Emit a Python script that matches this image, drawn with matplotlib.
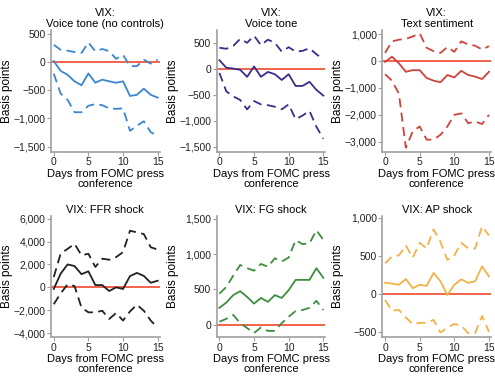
import matplotlib.pyplot as plt
from matplotlib.ticker import FuncFormatter

plt.rcParams['font.family'] = ['Liberation Sans', 'DejaVu Sans']
plt.rcParams['axes.unicode_minus'] = True

days = list(range(16))

titles = ['VIX:\nVoice tone (no controls)', 'VIX:\nVoice tone', 'VIX:\nText sentiment',
          'VIX: FFR shock', 'VIX: FG shock', 'VIX: AP shock']
colors = ['#3a86d0', '#3c2d8c', '#d0433a', '#222222', '#3e8e3e', '#f2b344']

voice_nc_mid = [20, -155, -225, -340, -410, -200, -365, -310, -340, -365, -340, -600, -580, -470, -580, -630]
voice_nc_hi = [310, 220, 205, 180, 165, 350, 195, 235, 195, 60, 130, -70, -70, 45, -25, 45]
voice_nc_lo = [-205, -560, -670, -890, -890, -775, -745, -765, -820, -830, -820, -1220, -1130, -1050, -1245, -1310]

voice_mid = [165, 20, 5, -20, -155, 45, -155, -60, -105, -215, -105, -330, -330, -250, -405, -515]
voice_hi = [405, 385, 440, 575, 500, 635, 455, 560, 500, 330, 415, 330, 345, 395, 280, 185]
voice_lo = [-80, -435, -530, -600, -780, -620, -685, -700, -730, -780, -685, -970, -900, -810, -1115, -1345]

text_mid = [-35, 160, -85, -400, -340, -340, -630, -730, -790, -520, -610, -365, -520, -580, -670, -400]
text_hi = [300, 730, 790, 820, 910, 1030, 490, 365, 300, 520, 340, 730, 610, 570, 425, 550]
text_lo = [-490, -730, -1220, -3220, -2610, -2430, -2920, -2920, -2740, -2430, -2000, -1945, -2310, -2245, -2340, -2000]

ffr_mid = [-140, 1200, 2000, 1860, 1150, 1400, 200, 200, -320, 0, -140, 980, 1260, 1000, 400, 575]
ffr_hi = [900, 2950, 3360, 3800, 2800, 2930, 1780, 2500, 2410, 2640, 3070, 4940, 4800, 4650, 3500, 3300]
ffr_lo = [-1470, -520, 260, 115, -1760, -2180, -2180, -2040, -2760, -2240, -2900, -2100, -1520, -2040, -2900, -3530]

fg_mid = [240, 315, 420, 475, 395, 300, 380, 325, 420, 380, 490, 635, 635, 635, 800, 665]
fg_hi = [440, 535, 695, 845, 800, 765, 860, 820, 940, 895, 950, 1195, 1140, 1150, 1335, 1200]
fg_lo = [45, 85, 140, 25, -45, -115, -35, -85, -85, 25, 115, 195, 210, 240, 340, 210]

ap_mid = [150, 140, 125, 200, 80, 125, 110, 280, 170, -10, 125, 195, 150, 170, 365, 235]
ap_hi = [405, 495, 510, 640, 480, 675, 600, 850, 685, 450, 510, 675, 600, 600, 890, 770]
ap_lo = [-75, -215, -205, -305, -390, -375, -375, -335, -500, -435, -390, -410, -510, -510, -285, -490]

series = [(voice_nc_mid, voice_nc_hi, voice_nc_lo), (voice_mid, voice_hi, voice_lo),
          (text_mid, text_hi, text_lo), (ffr_mid, ffr_hi, ffr_lo),
          (fg_mid, fg_hi, fg_lo), (ap_mid, ap_hi, ap_lo)]
yticks = [[500, 0, -500, -1000, -1500], [500, 0, -500, -1000, -1500],
          [1000, 0, -1000, -2000, -3000], [6000, 4000, 2000, 0, -2000, -4000],
          [1500, 1000, 500, 0], [1000, 500, 0, -500]]
ylims = [(-1590, 570), (-1593, 743), (-3364, 1145), (-4370, 6230), (-177, 1537), (-565, 1026)]

fmt = FuncFormatter(lambda v, p: '{:,.0f}'.format(v).replace('-', '\u2212'))

fig, axes = plt.subplots(2, 3, figsize=(4.95, 3.77), dpi=100)
plt.subplots_adjust(left=0.103, right=0.992, top=0.92, bottom=0.105, wspace=0.523, hspace=0.53)

for i, ax in enumerate(axes.flat):
    mid, hi, lo = series[i]
    c = colors[i]
    ax.axhline(0, color='#f0482e', lw=1.2, zorder=1)
    ax.plot(days, hi, color=c, lw=1.3, dashes=(5, 3))
    ax.plot(days, lo, color=c, lw=1.3, dashes=(5, 3))
    ax.plot(days, mid, color=c, lw=1.3)
    ax.set_xlim(-0.4, 15.3)
    ax.set_ylim(*ylims[i])
    ax.set_xticks([0, 5, 10, 15])
    ax.set_yticks(yticks[i])
    ax.yaxis.set_major_formatter(fmt)
    ax.set_title(titles[i], fontsize=8, pad=2, linespacing=1.15)
    ax.set_ylabel('Basis points', fontsize=8.5)
    ax.yaxis.set_label_coords(-0.35, 0.5)
    ax.set_xlabel('Days from FOMC press\nconference', fontsize=8, linespacing=1.0)
    ax.xaxis.set_label_coords(0.5, -0.14)
    for s in ['top', 'right']:
        ax.spines[s].set_visible(False)
    for s in ['left', 'bottom']:
        ax.spines[s].set_color('#a0a0a0')
        ax.spines[s].set_linewidth(1.2)
    ax.tick_params(labelsize=7.5, colors='#a0a0a0', labelcolor='#222222', length=3, width=0.8, pad=1)

fig.savefig('out.png', dpi=100)
